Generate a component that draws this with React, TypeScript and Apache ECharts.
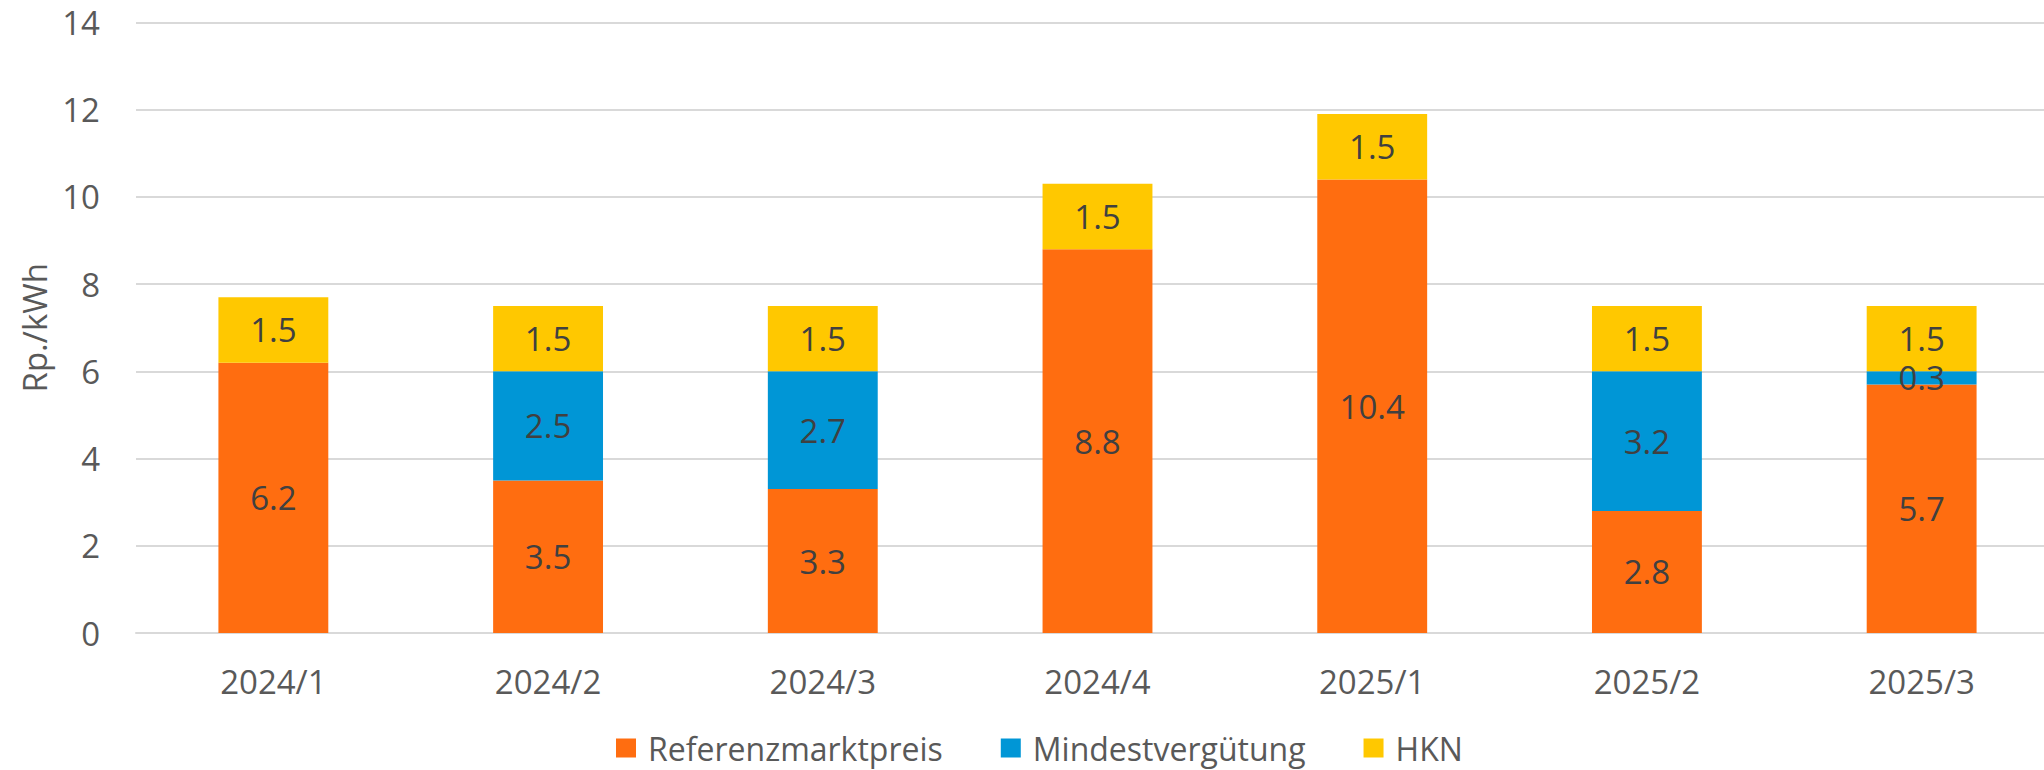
import React, { useEffect, useRef } from "react";
import * as echarts from "echarts";

const categories = ["2024/1", "2024/2", "2024/3", "2024/4", "2025/1", "2025/2", "2025/3"];
const referenzmarktpreis = [6.2, 3.5, 3.3, 8.8, 10.4, 2.8, 5.7];
const mindestverguetung = [null, 2.5, 2.7, null, null, 3.2, 0.3];
const hkn = [1.5, 1.5, 1.5, 1.5, 1.5, 1.5, 1.5];
const seriesNames = ["Referenzmarktpreis", "Mindestvergütung", "HKN"];
const colors = ["#FF6D10", "#0096D6", "#FFC800"];

const FONT = "Open Sans";

export default function App() {
  const ref = useRef<HTMLDivElement>(null);
  useEffect(() => {
    document.body.style.margin = "0";
    if (!ref.current) return;
    const chart = echarts.init(ref.current, null, { renderer: "svg" });
    const label = {
      show: true,
      position: "inside",
      color: "#404040",
      fontFamily: FONT,
      fontSize: 33,
      formatter: (p: any) => (p.value == null ? "" : Number(p.value).toFixed(1)),
    };
    const datasets = [referenzmarktpreis, mindestverguetung, hkn];
    chart.setOption({
      animation: false,
      backgroundColor: "#ffffff",
      grid: { left: 136, top: 22.5, height: 610.5, width: 1923, containLabel: false },
      legend: {
        left: 611,
        top: 725,
        itemWidth: 20,
        itemHeight: 19,
        itemGap: 58,
        icon: "rect",
        textStyle: { color: "#595959", fontFamily: FONT, fontSize: 32, padding: [0, 0, 0, 7], lineHeight: 36 },
        data: seriesNames,
      },
      xAxis: {
        type: "category",
        data: categories,
        axisLine: { show: true, lineStyle: { color: "#D9D9D9", width: 2 } },
        axisTick: { show: false },
        axisLabel: { color: "#595959", fontFamily: FONT, fontSize: 33, margin: 32, lineHeight: 33 },
      },
      yAxis: {
        type: "value",
        min: 0,
        max: 14,
        interval: 2,
        name: "Rp./kWh",
        nameLocation: "middle",
        nameGap: 76,
        nameTextStyle: { color: "#595959", fontFamily: FONT, fontSize: 33 },
        axisLine: { show: false },
        axisTick: { show: false },
        splitLine: { lineStyle: { color: "#D9D9D9", width: 2 } },
        axisLabel: { color: "#595959", fontFamily: FONT, fontSize: 33, margin: 36 },
      },
      series: seriesNames.map((name, i) => ({
        name,
        type: "bar",
        stack: "total",
        barCategoryGap: "60%",
        itemStyle: { color: colors[i] },
        label,
        data: datasets[i],
      })),
    });
    return () => chart.dispose();
  }, []);
  return (
    <div style={{ width: 2044, height: 770, overflow: "hidden" }}>
      <div ref={ref} style={{ width: 2070, height: 770 }} />
    </div>
  );
}
